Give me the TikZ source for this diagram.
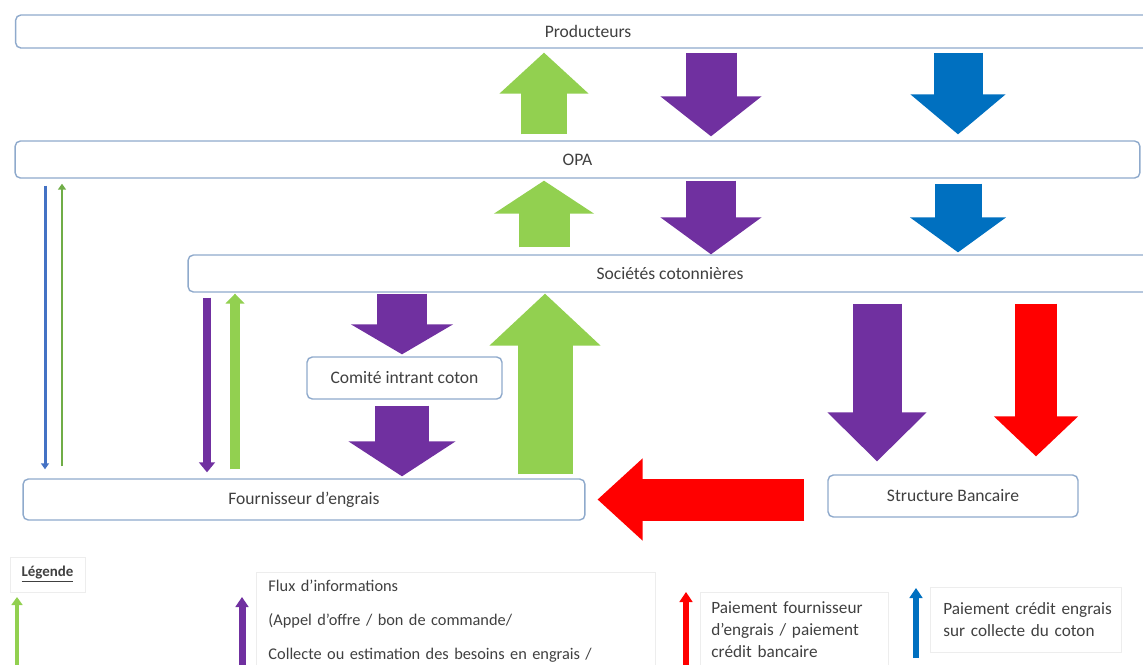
\documentclass[tikz,border=0pt]{standalone}
\usepackage{fontspec}
\setmainfont{Carlito}
\usetikzlibrary{arrows.meta}
\definecolor{vert}{HTML}{92D050}
\definecolor{violetf}{HTML}{7030A0}
\definecolor{bleuf}{HTML}{0070C0}
\definecolor{rougef}{HTML}{FF0000}
\definecolor{bleutrait}{HTML}{4472C4}
\definecolor{verttrait}{HTML}{70AD47}
\definecolor{bordure}{HTML}{8FAACC}
\definecolor{texte}{HTML}{404040}
\tikzset{acteur/.style={draw=bordure,line width=0.8pt,rounded corners=3pt,
    fill=white,text=texte,font=\fontsize{10}{12}\selectfont,inner sep=0pt},
  fleche/.style n args={4}{draw=#1,line width=#2,
    -{Triangle[width=#3,length=#4,line width'=1pt]}},
  legbox/.style={draw=black!7,line width=0.5pt,text=texte,align=left,
    anchor=north west}}

\begin{document}
\begin{tikzpicture}[x=0.02cm,y=-0.02cm]
\useasboundingbox (0,0) rectangle (1143,664);
\clip (0,0) rectangle (1143,664);
% acteurs
\node[acteur,minimum width=22.9cm,minimum height=0.66cm] (prod) at (588,31.5) {Producteurs};
\node[acteur,minimum width=22.5cm,minimum height=0.74cm] (opa) at (577.5,159.5) {OPA};
\node[acteur,minimum width=19.28cm,minimum height=0.74cm] (soc) at (670,273.5) {Sociétés cotonnières};
\node[acteur,minimum width=3.9cm,minimum height=0.84cm] (comite) at (404.5,378) {Comité intrant coton};
\node[acteur,minimum width=11.24cm,minimum height=0.82cm] (fourn) at (304,499.5) {Fournisseur d’engrais};
\node[acteur,minimum width=5cm,minimum height=0.84cm] (banque) at (953,496) {Structure Bancaire};
\coordinate (cvert) at (544,0);
\coordinate (cviol) at (711,0);
\coordinate (cbleu) at (958,0);
\coordinate (ccom) at (402,0);
\coordinate (cvert2) at (545,0);
\coordinate (cbanq) at (877,0);
\coordinate (crouge) at (1036,0);
\coordinate (cb) at (45,0);
\coordinate (cg) at (62,0);
\coordinate (cp) at (207,0);
\coordinate (cv) at (235,0);
% fleches
\draw[fleche={vert}{0.92cm}{1.78cm}{0.82cm},shorten <=0.12cm,shorten >=0.08cm] (opa.north -| cvert) -- (prod.south -| cvert);
\draw[fleche={violetf}{1.02cm}{2.02cm}{0.8cm},shorten <=0.08cm,shorten >=0.08cm] (prod.south -| cviol) -- (opa.north -| cviol);
\draw[fleche={bleuf}{0.98cm}{1.9cm}{0.8cm},shorten <=0.08cm,shorten >=0.12cm] (prod.south -| cbleu) -- (opa.north -| cbleu);
\draw[fleche={vert}{1.02cm}{2cm}{0.66cm},shorten <=0.14cm,shorten >=0.04cm] (soc.north -| cvert) -- (opa.south -| cvert);
\draw[fleche={violetf}{1cm}{2.02cm}{0.74cm},shorten <=0.04cm] (opa.south -| cviol) -- (soc.north -| cviol);
\draw[fleche={bleuf}{0.94cm}{1.92cm}{0.7cm},shorten <=0.1cm,shorten >=0.04cm] (opa.south -| cbleu) -- (soc.north -| cbleu);
\draw[fleche={violetf}{1cm}{2.04cm}{0.6cm},shorten <=0.02cm,shorten >=0.04cm] (soc.south -| ccom) -- (comite.north -| ccom);
\draw[fleche={violetf}{1.08cm}{2.14cm}{0.7cm},shorten <=0.12cm,shorten >=0.04cm] (comite.south -| ccom) -- (fourn.north -| ccom);
\draw[fleche={vert}{1.1cm}{2.22cm}{1.04cm},shorten <=0.08cm,shorten >=0.02cm] (fourn.north -| cvert2) -- (soc.south -| cvert2);
\draw[fleche={violetf}{0.98cm}{1.98cm}{0.98cm},shorten <=0.22cm,shorten >=0.26cm] (soc.south -| cbanq) -- (banque.north -| cbanq);
\draw[fleche={rougef}{0.84cm}{1.68cm}{0.8cm},shorten <=0.22cm,shorten >=0.36cm] (soc.south -| crouge) -- (banque.north -| crouge);
\draw[fleche={rougef}{0.84cm}{1.64cm}{0.9cm},shorten <=0.46cm,shorten >=0.24cm] (fourn.east -| banque.west) -- (fourn.east);
\draw[fleche={bleutrait}{0.06cm}{0.16cm}{0.12cm},shorten <=0.14cm,shorten >=0.18cm] (opa.south -| cb) -- (fourn.north -| cb);
\draw[fleche={verttrait}{0.05cm}{0.16cm}{0.12cm},shorten <=0.24cm,shorten >=0.1cm] (fourn.north -| cg) -- (opa.south -| cg);
\draw[fleche={violetf}{0.16cm}{0.32cm}{0.2cm},shorten <=0.1cm,shorten >=0.12cm] (soc.south -| cp) -- (fourn.north -| cp);
\draw[fleche={vert}{0.2cm}{0.38cm}{0.2cm},shorten <=0.18cm,shorten >=0.02cm] (fourn.north -| cv) -- (soc.south -| cv);
% legende
\node[legbox,anchor=center,font=\bfseries\fontsize{8.5}{10}\selectfont,minimum width=1.5cm,minimum height=0.7cm] (leg) at (47.5,574.5) {\underline{Légende}};
\node[legbox,text width=7.5cm,inner xsep=0.24cm,inner ysep=4.5pt,font=\fontsize{9.3}{19.3}\selectfont] (info) at (256,572)
  {Flux d’informations\\(Appel d’offre / bon de commande/\\Collecte ou estimation des besoins en engrais /};
\node[legbox,text width=3.32cm,inner xsep=0.22cm,inner ysep=5.3pt,font=\fontsize{9.8}{12.5}\selectfont] (paie) at (700,592)
  {Paiement fournisseur\\d’engrais / paiement\\crédit bancaire};
\node[legbox,text width=3.3cm,inner xsep=0.26cm,minimum height=1.3cm,font=\fontsize{9.8}{12.5}\selectfont] (credit) at (930,587)
  {\mbox{Paiement crédit engrais}\\sur collecte du coton};
\draw[fleche={vert}{0.1cm}{0.22cm}{0.16cm}] (17,680) -- (17,597);
\draw[fleche={violetf}{0.14cm}{0.26cm}{0.2cm}] (242,680) -- (242,597);
\draw[fleche={rougef}{0.12cm}{0.26cm}{0.2cm}] (686,680) -- (686,592);
\draw[fleche={bleuf}{0.12cm}{0.26cm}{0.2cm}] (916,658) -- (916,588);
\end{tikzpicture}
\end{document}
